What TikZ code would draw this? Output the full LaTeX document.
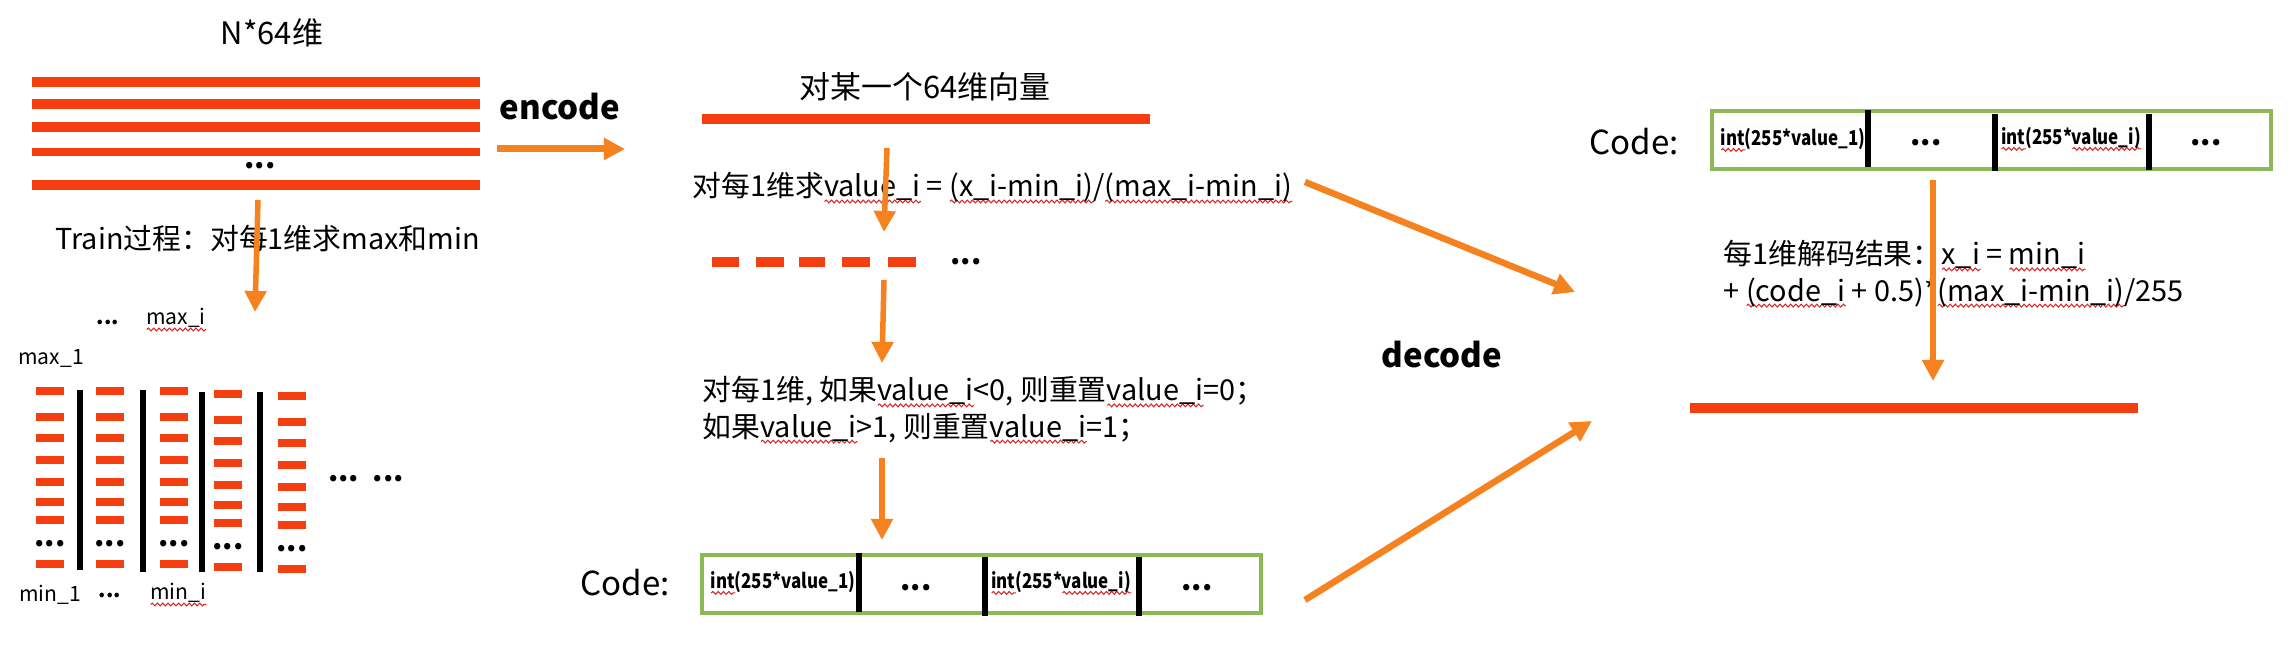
\documentclass[tikz,border=0pt]{standalone}
\usepackage{fontspec}
\setmainfont{Noto Sans CJK SC}
\newfontfamily\condfont[FakeStretch=0.83]{Noto Sans CJK SC}
\usetikzlibrary{arrows.meta,decorations.pathmorphing}
\definecolor{barred}{RGB}{244,62,15}
\definecolor{arrowor}{RGB}{245,130,31}
\definecolor{boxgreen}{RGB}{139,186,84}
\definecolor{sqred}{RGB}{215,40,40}
\newsavebox\rwbox
\newdimen\rwlen
\newcommand\rwave[1]{\sbox\rwbox{#1}\rwlen=\wd\rwbox\rlap{\tikz[baseline=0pt,x=1pt,y=1pt]\draw[sqred,line width=0.3pt,decorate,decoration={snake,segment length=1.5pt,amplitude=0.4pt}] (0pt,-1.3pt) -- (\rwlen,-1.3pt);}\usebox\rwbox}
\begin{document}
\begin{tikzpicture}[x=0.01cm,y=-0.01cm,
 txt/.style={inner sep=0pt, font=\fontsize{8.2}{10.3}\selectfont},
 ttl/.style={inner sep=0pt, font=\fontsize{8.8}{10}\selectfont},
 codel/.style={inner sep=0pt, font=\fontsize{9.4}{11}\selectfont},
 kw/.style={inner sep=0pt, font=\fontsize{9.4}{11}\selectfont\bfseries},
 cell/.style={inner sep=0pt, font=\condfont\fontsize{5.8}{6.5}\selectfont\bfseries},
 lab/.style={inner sep=0pt, font=\fontsize{6}{7}\selectfont},
 dots/.style={inner sep=0pt, font=\fontsize{8.4}{10}\selectfont\bfseries},
 rbar/.style={draw=barred, line width=0.1cm},
 vline/.style={draw=black, line width=0.06cm},
 arr/.style={draw=arrowor, line width=0.055cm, -{Triangle[length=0.21cm,width=0.21cm]}},
 cbox/.style={draw=boxgreen, line width=0.045cm},
]
\useasboundingbox[fill=white] (0,0) rectangle (2290,662);

% ---------- left: N*64 ----------
\node[ttl] (title1) at (272,33) {N*64维};
\foreach \y in {82,104,127,185} \draw[rbar] (32,\y) -- (480,\y);
\draw[rbar, line width=0.08cm] (32,152) -- (480,152);
\node[dots] (ldots) at (260,166) {...};
\node[kw] (enc) at (560,107) {encode};
\node[txt, anchor=west] (train) at (55,239) {Train过程：对每1维求max和min};

% ---------- left bottom: columns ----------
\node[lab] (dtop) at (108,322) {\textbf{...}};
\node[lab] (maxi) at (176,320) {\rwave{max\_i}};
\node[lab] (max1) at (51,358) {max\_1};
\node[lab] (min1) at (50,595) {min\_1};
\node[lab] (dbot) at (110,595) {\textbf{...}};
\node[lab] (mini) at (178,595) {\rwave{min\_i}};
\foreach \x/\o in {36/0,96/0,160/0,214/3,278/5}{
  \foreach \y in {391,417,438,460,482,502,520,564}
    \draw[rbar, line width=0.08cm] (\x,\y+\o) -- (\x+28,\y+\o);
  \node[dots] at (\x+14,544+\o) {...};
}
\draw[vline] (80,390) -- (80,570);
\draw[vline] (143,390) -- (143,572);
\draw[vline] (202,392) -- (202,572);
\draw[vline] (260,392) -- (260,572);
\node[dots] (ldots2) at (366,479) {...\ \ ...};

% ---------- middle ----------
\node[ttl] (title2) at (925,87) {对某一个64维向量};
\draw[rbar] (702,119) -- (1150,119);
\node[txt, anchor=west] (norm) at (692,188) {对每1维求\rwave{value\_i} = \rwave{(x\_i-min\_i)}/\rwave{(max\_i-min\_i)}};
\foreach \a/\b in {712/739,756/784,799/825,842/870,888/916}
  \draw[rbar] (\a,262) -- (\b,262);
\node[dots] (mdots) at (966,262) {...};
\node[txt, anchor=west, align=left] (clip) at (702,410)
  {对每1维, 如果\rwave{value\_i}<0, 则重置\rwave{value\_i}=0；\\
   如果\rwave{value\_i}>1, 则重置\rwave{value\_i}=1；};
\node[codel] (code1) at (625,583) {Code:};
\draw[cbox] (702,555) rectangle (1261,613);
\draw[vline] (859,553) -- (859,612);
\draw[vline] (985,557) -- (985,616);
\draw[vline] (1139,557) -- (1139,616);
\node[cell] (c11) at (783,583) {\rwave{int}(255*value\_1)};
\node[dots] (c12) at (916,588) {...};
\node[cell] (c13) at (1061,583) {\rwave{int}(255*\rwave{value\_i)}};
\node[dots] (c14) at (1197,588) {...};

% ---------- decode ----------
\node[kw] (dec) at (1442,355) {decode};

% ---------- right ----------
\node[codel] (code2) at (1634,142) {Code:};
\draw[cbox] (1712,111) rectangle (2271,169);
\draw[vline] (1868,110) -- (1868,167);
\draw[vline] (1995,114) -- (1995,171);
\draw[vline] (2149,114) -- (2149,170);
\node[cell] (c21) at (1793,140) {\rwave{int}(255*value\_1)};
\node[dots] (c22) at (1926,143) {...};
\node[cell] (c23) at (2071,139) {\rwave{int}(255*\rwave{value\_i)}};
\node[dots] (c24) at (2206,143) {...};
\node[txt, anchor=west, align=left] (dectxt) at (1723,274)
  {每1维解码结果：\rwave{x\_i} = \rwave{min\_i}\\
   + \rwave{(code\_i} + 0.5)*\rwave{(max\_i-min\_i)}/255};
\draw[rbar] (1690,408) -- (2138,408);

% ---------- arrows ----------
\coordinate (eA) at (497,149);  \coordinate (eB) at (625,149);
\coordinate (tA) at (258,200);  \coordinate (tB) at (255,312);
\coordinate (m1A) at (887,148); \coordinate (m1B) at (884,232);
\coordinate (m2A) at (884,280); \coordinate (m2B) at (882,363);
\coordinate (m3A) at (882,458); \coordinate (m3B) at (882,540);
\coordinate (d1A) at (1305,182); \coordinate (d1B) at (1575,292);
\coordinate (d2A) at (1305,600); \coordinate (d2B) at (1592,421);
\coordinate (rA) at (1933,180); \coordinate (rB) at (1933,381);
\draw[arr, line width=0.07cm] (eA) -- (eB);
\draw[arr] (tA) -- (tB);
\draw[arr] (m1A) -- (m1B);
\draw[arr] (m2A) -- (m2B);
\draw[arr] (m3A) -- (m3B);
\draw[arr, line width=0.065cm] (d1A) -- (d1B);
\draw[arr, line width=0.065cm] (d2A) -- (d2B);
\draw[arr] (rA) -- (rB);
\end{tikzpicture}
\end{document}
